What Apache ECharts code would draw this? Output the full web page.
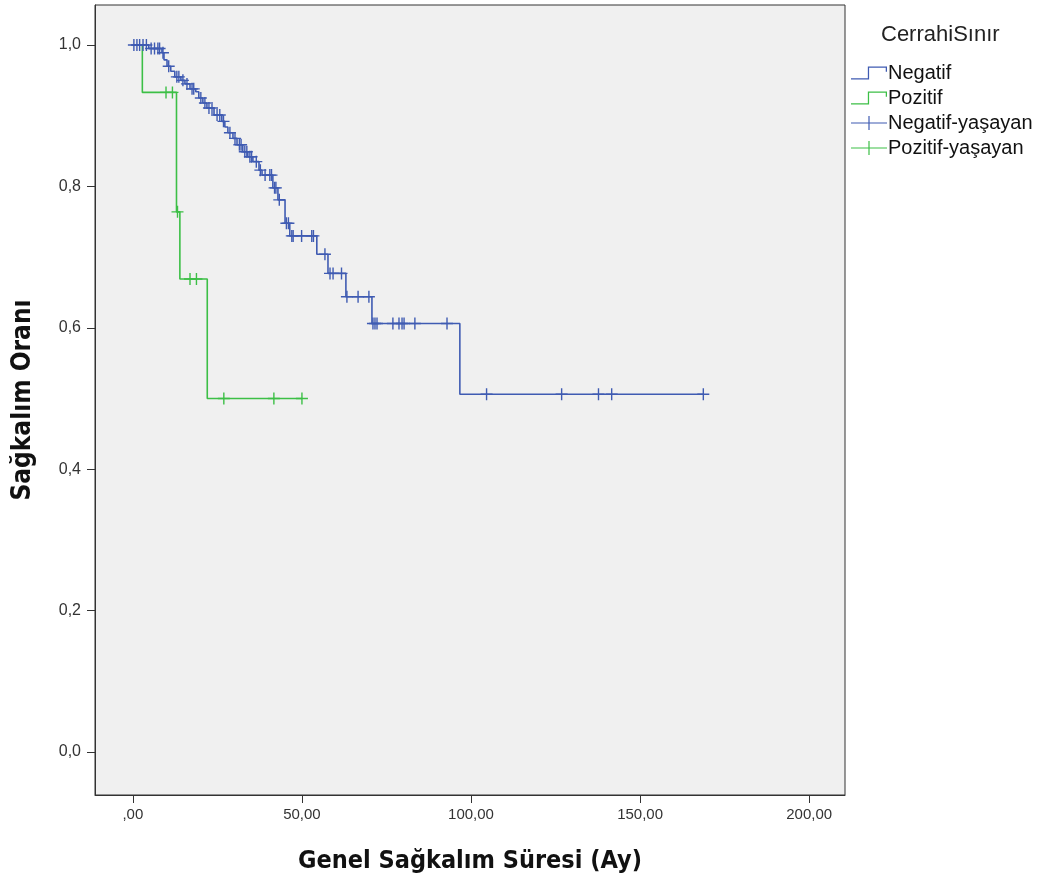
<!DOCTYPE html>
<html>
<head>
<meta charset="utf-8">
<title>Sağkalım</title>
<script src="https://cdn.jsdelivr.net/npm/echarts@6/dist/echarts.min.js"></script>
<style>
  html, body { margin: 0; padding: 0; background: #fff; }
  #main { width: 1046px; height: 887px; }
</style>
</head>
<body>
<div id="main"></div>
<script>
// Negatif grubu: olay zamanları ve sonrasındaki sağkalım oranı
var negEventTime = [4.7, 8.6, 9.2, 10.1, 11.2, 12.4, 14.2, 15.4, 16.9, 18.6, 19.5, 20.7, 21.9, 24.0, 26.3, 27.2, 28.1, 29.6, 30.8, 32.5, 34.0, 35.5, 37.3, 38.2, 41.4, 42.9, 45.0, 46.4, 54.4, 57.7, 63.0, 70.7, 96.7];
var negEventSurv = [0.995, 0.989, 0.979, 0.970, 0.963, 0.955, 0.950, 0.945, 0.938, 0.934, 0.925, 0.918, 0.911, 0.901, 0.892, 0.884, 0.876, 0.868, 0.859, 0.849, 0.842, 0.835, 0.823, 0.816, 0.798, 0.781, 0.748, 0.730, 0.704, 0.677, 0.644, 0.606, 0.506];
// Negatif grubu: sansürlü (yaşayan) hastalar
var negCensorTime = [0.3, 1.2, 2.0, 3.0, 4.0, 5.4, 6.4, 7.4, 7.9, 8.9, 10.6, 13.0, 13.6, 14.8, 16.0, 17.5, 18.0, 20.1, 21.3, 22.5, 23.4, 24.9, 25.7, 26.8, 28.7, 30.2, 31.5, 32.0, 33.1, 33.7, 34.6, 35.1, 36.5, 37.7, 39.1, 40.5, 41.0, 41.9, 42.3, 43.3, 45.4, 46.0, 47.0, 47.4, 49.9, 52.9, 53.4, 56.8, 58.3, 59.2, 61.7, 63.3, 66.6, 69.8, 71.0, 71.6, 72.2, 76.9, 78.7, 79.6, 80.2, 83.4, 92.9, 104.6, 126.8, 137.7, 141.6, 168.7];

// Pozitif grubu
var posEventTime = [2.8, 12.9, 13.9, 22.0];
var posEventSurv = [0.933, 0.764, 0.669, 0.500];
var posCensorTime = [9.8, 11.7, 13.2, 16.9, 18.8, 26.9, 41.7, 50.0];

var xTicks = [0, 50, 100, 150, 200];
var yTicks = [0, 0.2, 0.4, 0.6, 0.8, 1.0];

var blue = '#3F5BB2';
var green = '#3CBF46';
var titleFont = '"Liberation Sans Narrow", "DejaVu Sans Condensed", "Liberation Sans", sans-serif';

// basamak çizgisi için noktalar
function stepData(times, surv, endTime) {
    var d = [[0, 1]];
    for (var i = 0; i < times.length; i++) {
        d.push([times[i], surv[i]]);
    }
    d.push([endTime, surv[surv.length - 1]]);
    return d;
}

// sansür noktasının o andaki sağkalım düzeyi
function censorData(censor, times, surv) {
    var d = [];
    censor.forEach(function(t) {
        var s = 1;
        for (var i = 0; i < times.length; i++) {
            if (times[i] <= t) s = surv[i];
        }
        d.push([t, s]);
    });
    return d;
}

var plusIcon = 'path://M5.3,0h1.4v12h-1.4z M0,5.3h12v1.4h-12z';
var legendPlus = 'path://M0,6.4h36v1.2h-36z M17.4,0h1.2v14h-1.2z';
var legendStep = 'path://M0,12.4h17v1.2h-17z M16,1.4h1.2v12.2h-1.2z M16,1.4h18v1.2h-18z M33,1.4h1.2v5h-1.2z';

var myChart = echarts.init(document.getElementById('main'));

var option = {
    backgroundColor: '#ffffff',
    animation: false,
    title: {
        text: 'CerrahiSınır',
        left: 876,
        top: 19,
        textStyle: {
            fontFamily: 'Liberation Sans',
            fontSize: 22,
            fontWeight: 'normal',
            color: '#222'
        }
    },
    legend: {
        orient: 'vertical',
        left: 846,
        top: 58,
        itemWidth: 36,
        itemHeight: 14,
        itemGap: 5,
        selectedMode: false,
        textStyle: {
            fontFamily: 'Liberation Sans',
            fontSize: 20,
            color: '#111',
            padding: [0, 0, 0, -4]
        },
        data: [
            { name: 'Negatif', icon: legendStep },
            { name: 'Pozitif', icon: legendStep },
            { name: 'Negatif-yaşayan', icon: legendPlus },
            { name: 'Pozitif-yaşayan', icon: legendPlus }
        ]
    },
    grid: {
        left: 95,
        top: 5,
        right: 201,
        bottom: 92,
        show: true,
        backgroundColor: '#F0F0F0',
        borderColor: '#333',
        borderWidth: 1
    },
    xAxis: {
        type: 'value',
        min: -11.2,
        max: 210.6,
        name: 'Genel Sağkalım Süresi (Ay)',
        nameLocation: 'middle',
        nameGap: 54,
        nameTextStyle: {
            fontFamily: titleFont,
            fontSize: 25,
            fontWeight: 'bold',
            color: '#111'
        },
        splitLine: { show: false },
        axisLine: { show: true, onZero: false, lineStyle: { color: '#333' } },
        axisTick: { show: true, length: 8, customValues: xTicks, lineStyle: { color: '#333' } },
        axisLabel: {
            customValues: xTicks,
            margin: 12,
            fontFamily: 'Liberation Sans',
            fontSize: 15,
            color: '#333',
            formatter: function(v) {
                var s = v.toFixed(2).replace('.', ',');
                return v === 0 ? ',00' : s;
            }
        }
    },
    yAxis: {
        type: 'value',
        min: -0.0608,
        max: 1.0566,
        name: 'Sağkalım Oranı',
        nameLocation: 'middle',
        nameGap: 59,
        nameTextStyle: {
            fontFamily: titleFont,
            fontSize: 26,
            fontWeight: 'bold',
            color: '#111'
        },
        splitLine: { show: false },
        axisLine: { show: true, onZero: false, lineStyle: { color: '#333' } },
        axisTick: { show: true, length: 8, customValues: yTicks, lineStyle: { color: '#333' } },
        axisLabel: {
            customValues: yTicks,
            margin: 14,
            fontFamily: 'Liberation Sans',
            fontSize: 16,
            color: '#333',
            formatter: function(v) {
                return v.toFixed(1).replace('.', ',');
            }
        }
    },
    series: [
        {
            name: 'Pozitif',
            type: 'line',
            step: 'end',
            showSymbol: false,
            symbol: 'none',
            z: 2,
            itemStyle: { color: green },
            lineStyle: { color: green, width: 1.6 },
            data: stepData(posEventTime, posEventSurv, posCensorTime[posCensorTime.length - 1])
        },
        {
            name: 'Pozitif-yaşayan',
            type: 'scatter',
            symbol: plusIcon,
            symbolSize: 12,
            z: 3,
            itemStyle: { color: green, opacity: 1 },
            data: censorData(posCensorTime, posEventTime, posEventSurv)
        },
        {
            name: 'Negatif',
            type: 'line',
            step: 'end',
            showSymbol: false,
            symbol: 'none',
            z: 4,
            itemStyle: { color: blue },
            lineStyle: { color: blue, width: 1.6 },
            data: stepData(negEventTime, negEventSurv, negCensorTime[negCensorTime.length - 1])
        },
        {
            name: 'Negatif-yaşayan',
            type: 'scatter',
            symbol: plusIcon,
            symbolSize: 12,
            z: 5,
            itemStyle: { color: blue, opacity: 1 },
            data: censorData(negCensorTime, negEventTime, negEventSurv)
        }
    ]
};

myChart.setOption(option);
</script>
</body>
</html>
